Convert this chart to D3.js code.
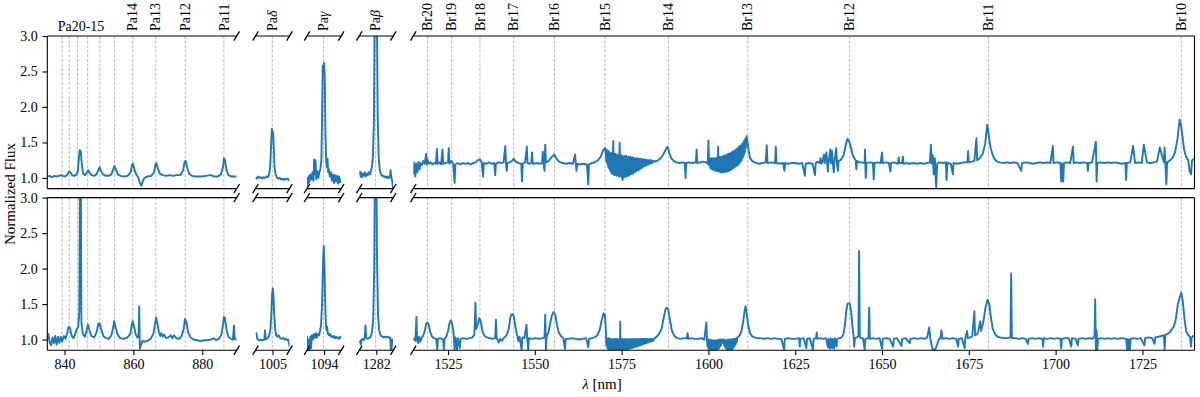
<!DOCTYPE html>
<html><head><meta charset="utf-8">
<script src="https://cdn.jsdelivr.net/npm/d3@7"></script>
<style>
body{margin:0;background:#fff}
svg{display:block}
text{font-family:"Liberation Serif","DejaVu Serif",serif;fill:#000}
</style>
</head><body><svg id="c" width="1200" height="397"></svg>
<script>
// ---------------- DATA ----------------
const segDomains = [[835,890],[1000,1010],[1089,1099],[1277,1287],[1515,1740]];
const segTicks = [[840,860,880],[1005],[1094],[1282],[1525,1550,1575,1600,1625,1650,1675,1700,1725]];
const yTicks = [1.0,1.5,2.0,2.5,3.0];
const yDomain = [0.85,3.0];

const groupWaves = [839.30,841.36,843.80,846.72,850.25,854.54];
const groupLabel = "Pa20-15";
const groupLabelAt = 844.8;
const lineNames = ["Pa14","Pa13","Pa12","Pa11","Paδ","Paγ","Paβ","Br20","Br19","Br18","Br17","Br16","Br15","Br14","Br13","Br12","Br11","Br10"];
const lineWaves = [859.82,866.50,875.04,886.28,1004.94,1093.82,1281.81,1519.08,1526.05,1534.20,1543.92,1555.64,1570.24,1588.49,1611.35,1640.68,1680.65,1736.21];

const xLabel = "[nm]";
const yLabel = "Normalized Flux";

// top spectrum [wavelength nm, normalized flux]
const topFlux = [
[835.0,1.02],[835.6,1.03],[836.3,1.01],[837.0,1.03],[837.7,1.02],[838.4,1.03],[839.0,1.04],[839.5,1.03],[840.2,1.02],[840.9,1.05],[841.3,1.09],[841.7,1.08],[842.2,1.04],[842.8,1.03],[843.5,1.05],[843.9,1.10],[844.2,1.30],[844.4,1.39],[844.7,1.38],[845.0,1.20],[845.4,1.06],[846.0,1.04],[846.5,1.08],[846.9,1.11],[847.3,1.07],[847.9,1.04],[848.6,1.03],[849.3,1.05],[849.9,1.12],[850.2,1.15],[850.6,1.10],[851.2,1.05],[852.0,1.03],[852.8,1.03],[853.6,1.05],[854.2,1.13],[854.5,1.17],[854.9,1.12],[855.5,1.05],[856.3,1.03],[857.2,1.02],[858.3,1.03],[859.2,1.08],[859.6,1.18],[859.9,1.20],[860.3,1.12],[860.8,1.05],[861.4,1.01],[861.9,0.93],[862.3,0.89],[862.7,0.95],[863.2,1.00],[864.0,1.02],[865.2,1.03],[866.0,1.08],[866.4,1.19],[866.7,1.21],[867.1,1.13],[867.7,1.06],[868.5,1.04],[869.5,1.03],[870.5,1.04],[871.5,1.03],[872.5,1.04],[873.6,1.04],[874.4,1.10],[874.9,1.23],[875.2,1.24],[875.6,1.15],[876.2,1.06],[877.0,1.03],[878.0,1.02],[879.5,1.02],[881.0,1.03],[882.5,1.04],[883.5,1.02],[884.5,1.02],[885.4,1.05],[886.0,1.15],[886.3,1.28],[886.6,1.25],[887.0,1.12],[887.6,1.04],[888.5,1.02],[889.3,1.02],[890.0,1.02],
[1000.0,1.01],[1000.4,0.99],[1000.8,1.02],[1001.2,1.00],[1001.6,1.01],[1002.0,0.99],[1002.4,1.01],[1002.8,1.00],[1003.2,1.02],[1003.6,1.01],[1004.0,1.05],[1004.3,1.15],[1004.6,1.45],[1004.8,1.69],[1005.0,1.66],[1005.2,1.63],[1005.4,1.40],[1005.6,1.15],[1005.9,1.05],[1006.3,1.01],[1006.7,0.99],[1007.1,1.00],[1007.5,0.98],[1007.9,0.99],[1008.3,0.97],[1008.7,0.99],[1009.1,0.98],[1009.5,0.99],[1010.0,0.96],
[1089.0,0.88],[1089.2,1.00],[1089.4,0.92],[1089.6,1.03],[1089.8,0.95],[1090.0,1.05],[1090.3,0.98],[1090.6,1.08],[1090.9,0.96],[1091.1,1.26],[1091.3,1.05],[1091.5,1.25],[1091.7,0.98],[1092.0,1.10],[1092.3,1.00],[1092.6,1.08],[1092.9,1.12],[1093.2,1.25],[1093.4,1.80],[1093.6,2.58],[1093.8,2.55],[1094.0,2.62],[1094.2,2.40],[1094.4,1.60],[1094.6,1.25],[1094.8,1.15],[1095.0,1.27],[1095.2,1.08],[1095.4,1.12],[1095.7,1.02],[1096.0,1.08],[1096.3,0.96],[1096.6,1.05],[1096.9,0.93],[1097.2,1.04],[1097.5,0.95],[1097.8,1.03],[1098.1,0.92],[1098.4,1.02],[1098.7,0.94],[1099.0,0.98],
[1277.0,1.05],[1277.2,1.09],[1277.4,1.02],[1277.6,1.07],[1277.8,1.01],[1278.0,1.06],[1278.3,1.03],[1278.6,1.08],[1278.9,1.02],[1279.2,1.06],[1279.5,1.04],[1279.8,1.08],[1280.1,1.05],[1280.4,1.10],[1280.7,1.15],[1281.0,1.30],[1281.3,1.80],[1281.5,3.20],[1281.7,3.60],[1282.0,3.60],[1282.2,3.20],[1282.4,1.90],[1282.7,1.30],[1283.0,1.12],[1283.3,1.06],[1283.6,1.04],[1283.9,1.02],[1284.2,1.03],[1284.5,1.01],[1284.8,1.02],[1285.1,1.00],[1285.4,1.02],[1285.7,1.00],[1286.0,1.01],[1286.2,1.11],[1286.4,1.00],[1286.6,0.98],[1286.8,0.90],[1287.0,0.82],
[1515.0,1.05],[1515.3,1.22],[1515.6,1.02],[1515.9,1.20],[1516.2,1.08],[1516.5,1.23],[1516.8,1.12],[1517.1,1.21],[1517.5,1.18],[1517.9,1.24],[1518.3,1.20],[1518.7,1.34],[1518.9,1.19],[1519.1,1.26],[1519.5,1.20],[1520.0,1.22],[1520.5,1.19],[1521.0,1.21],[1521.5,1.20],[1521.8,1.41],[1522.0,1.20],[1522.5,1.22],[1523.0,1.19],[1523.4,1.40],[1523.6,1.20],[1524.2,1.21],[1525.0,1.22],[1525.2,1.42],[1525.4,1.20],[1526.0,1.24],[1526.5,1.20],[1526.9,0.93],[1527.1,1.19],[1527.8,1.21],[1528.5,1.19],[1529.3,1.21],[1530.0,1.20],[1530.8,1.21],[1531.5,1.19],[1532.3,1.21],[1533.0,1.22],[1533.6,1.25],[1534.2,1.26],[1534.7,1.22],[1535.1,1.02],[1535.3,1.21],[1536.0,1.20],[1536.8,1.22],[1537.5,1.20],[1538.3,1.21],[1538.6,1.04],[1538.8,1.20],[1539.5,1.22],[1540.3,1.21],[1541.0,1.22],[1541.5,1.45],[1541.7,1.20],[1541.9,1.10],[1542.1,1.21],[1542.8,1.22],[1543.4,1.24],[1543.9,1.27],[1544.5,1.23],[1545.3,1.21],[1546.1,1.20],[1546.3,0.95],[1546.5,1.20],[1547.2,1.22],[1547.7,1.44],[1547.9,1.21],[1548.5,1.20],[1549.0,1.22],[1549.2,1.36],[1549.4,1.20],[1550.6,1.21],[1551.5,1.20],[1552.1,1.21],[1552.3,1.37],[1552.5,1.20],[1552.8,1.10],[1553.0,1.47],[1553.2,1.22],[1554.0,1.24],[1554.8,1.29],[1555.6,1.33],[1556.3,1.27],[1557.0,1.23],[1558.0,1.21],[1559.0,1.20],[1560.0,1.21],[1561.0,1.20],[1561.6,1.33],[1561.8,1.20],[1562.0,1.10],[1562.2,1.20],[1563.0,1.19],[1564.0,1.20],[1565.0,1.19],[1565.4,0.91],[1565.6,1.19],[1566.4,1.21],[1567.3,1.22],[1568.2,1.25],[1569.0,1.30],[1569.6,1.38],[1570.2,1.42],
[1570.40,1.38],[1570.55,1.24],[1570.70,1.40],[1570.85,1.20],[1571.00,1.37],[1571.15,1.15],[1571.30,1.38],[1571.45,1.13],[1571.60,1.35],[1571.75,1.10],[1571.90,1.34],[1572.05,1.07],[1572.20,1.36],[1572.35,1.06],[1572.50,1.33],[1572.60,1.52],[1572.70,1.05],[1572.85,1.32],[1573.00,1.04],[1573.15,1.34],[1573.30,1.05],[1573.45,1.31],[1573.60,1.03],[1573.75,1.33],[1573.90,1.04],[1574.05,1.31],[1574.20,1.02],[1574.35,1.32],[1574.45,1.50],[1574.55,1.03],[1574.70,1.31],[1574.85,1.02],[1575.00,1.32],[1575.15,1.01],[1575.30,0.97],[1575.45,1.30],[1575.60,1.02],[1575.75,1.31],[1575.90,1.01],[1576.05,1.30],[1576.20,1.03],[1576.35,1.31],[1576.50,1.02],[1576.65,1.29],[1576.80,1.04],[1576.95,1.30],[1577.10,1.03],[1577.25,1.29],[1577.40,1.05],[1577.55,1.30],[1577.70,1.05],[1577.85,1.28],[1578.00,1.07],[1578.15,1.29],[1578.30,1.06],[1578.45,1.28],[1578.60,1.08],[1578.75,1.28],[1578.90,1.09],[1579.05,1.27],[1579.20,1.09],[1579.35,1.28],[1579.50,1.11],[1579.65,1.27],[1579.80,1.11],[1579.95,1.27],[1580.10,1.12],[1580.25,1.26],[1580.40,1.13],[1580.55,1.27],[1580.70,1.14],[1580.85,1.26],[1581.00,1.15],[1581.15,1.26],[1581.30,1.16],[1581.45,1.26],[1581.60,1.17],[1581.75,1.25],[1581.90,1.17],[1582.05,1.26],[1582.20,1.18],[1582.35,1.25],[1582.50,1.19],[1582.65,1.25],[1582.80,1.19],[1582.95,1.25],[1583.10,1.20],[1583.25,1.25],[1583.40,1.21],[1583.55,1.25],[1583.70,1.21],[1583.85,1.24],[1584.00,1.22],
[1584.4,1.24],[1584.8,1.23],[1585.5,1.25],[1586.3,1.28],[1587.0,1.33],[1587.7,1.40],[1588.2,1.44],[1588.7,1.36],[1589.3,1.28],[1590.0,1.24],[1590.8,1.22],[1591.7,1.21],[1592.6,1.22],[1593.2,1.21],[1593.4,1.00],[1593.6,1.21],[1594.5,1.22],[1595.5,1.21],[1596.4,1.22],[1596.6,1.40],[1596.8,1.21],[1597.6,1.22],[1598.5,1.23],[1599.3,1.22],[1599.8,1.20],[1600.0,1.53],[1600.2,1.18],
[1600.40,1.28],[1600.55,1.14],[1600.70,1.27],[1600.85,1.13],[1601.00,1.28],[1601.15,1.12],[1601.30,1.27],[1601.45,1.12],[1601.60,1.28],[1601.75,1.11],[1601.90,1.27],[1602.05,1.10],[1602.20,1.28],[1602.35,1.10],[1602.50,1.29],[1602.65,1.10],[1602.80,1.44],[1602.95,1.09],[1603.10,1.29],[1603.25,1.09],[1603.40,1.30],[1603.55,1.08],[1603.70,1.29],[1603.85,1.08],[1604.00,1.30],[1604.15,1.08],[1604.30,1.31],[1604.45,1.08],[1604.60,1.31],[1604.75,1.09],[1604.90,1.32],[1605.05,1.09],[1605.20,1.32],[1605.35,1.09],[1605.50,1.33],[1605.65,1.10],[1605.80,1.34],[1605.95,1.10],[1606.10,1.34],[1606.25,1.11],[1606.40,1.35],[1606.55,1.12],[1606.70,1.36],[1606.85,1.13],[1607.00,1.37],[1607.15,1.14],[1607.30,1.38],[1607.45,1.15],[1607.60,1.38],[1607.75,1.16],[1607.90,1.40],[1608.05,1.17],[1608.20,1.41],[1608.35,1.18],[1608.50,1.42],[1608.65,1.19],[1608.80,1.44],[1608.95,1.21],[1609.10,1.45],[1609.25,1.23],[1609.40,1.46],[1609.55,1.25],[1609.70,1.48],[1609.85,1.28],[1610.00,1.50],[1610.15,1.31],[1610.30,1.52],[1610.45,1.35],[1610.60,1.55],[1610.75,1.42],[1611.00,1.59],
[1611.3,1.50],[1611.6,1.38],[1612.0,1.28],[1612.6,1.24],[1613.3,1.22],[1614.0,1.21],[1614.6,1.20],[1615.5,1.21],[1616.5,1.22],[1616.8,1.46],[1617.0,1.21],[1618.0,1.22],[1619.2,1.21],[1619.4,1.44],[1619.6,1.21],[1620.5,1.20],[1621.5,1.21],[1621.9,1.10],[1622.1,1.21],[1623.0,1.20],[1624.0,1.21],
[1625.0,1.21],[1626.0,1.20],[1627.0,1.21],[1627.8,1.03],[1628.0,1.20],[1629.0,1.21],[1630.0,1.20],[1630.7,1.04],[1630.9,1.21],[1631.5,1.23],[1632.0,1.21],[1632.3,1.28],[1632.5,1.20],[1632.8,1.22],[1633.3,1.33],[1633.5,1.21],[1634.0,1.36],[1634.2,1.20],[1634.4,1.09],[1634.6,1.22],[1635.1,1.40],[1635.3,1.21],[1635.6,1.38],[1635.8,1.22],[1636.1,1.08],[1636.3,1.23],[1636.8,1.42],[1637.0,1.22],[1637.3,1.10],[1637.5,1.24],[1638.0,1.25],[1638.5,1.28],[1639.0,1.33],[1639.5,1.45],[1640.0,1.55],[1640.5,1.52],[1641.0,1.44],[1641.5,1.33],[1642.0,1.28],[1642.4,1.25],[1642.6,1.12],[1642.8,1.24],[1643.3,1.22],[1644.0,1.22],[1645.0,1.21],[1645.1,1.40],[1645.3,1.00],[1645.5,1.21],[1646.5,1.22],[1647.4,1.21],[1647.6,0.98],[1647.8,1.21],[1648.8,1.22],[1649.6,1.21],[1650.0,1.36],[1650.2,1.21],[1651.0,1.22],[1652.0,1.21],[1652.4,1.09],[1652.6,1.21],[1653.6,1.22],[1654.6,1.20],[1654.8,1.29],[1655.0,1.21],[1655.8,1.21],[1656.0,1.30],[1656.2,1.20],[1657.0,1.21],[1658.0,1.20],[1659.0,1.21],[1660.0,1.20],[1661.0,1.21],[1662.0,1.20],[1663.0,1.21],[1663.8,1.22],[1664.1,1.47],[1664.3,1.20],[1664.6,1.32],[1664.9,1.05],[1665.2,1.28],[1665.6,0.87],[1665.9,1.20],[1666.4,1.22],[1667.5,1.21],[1668.4,1.22],[1668.6,0.97],[1668.8,1.21],[1669.8,1.20],[1670.4,1.05],[1670.6,1.21],[1671.6,1.20],[1672.6,1.21],[1673.6,1.22],[1674.6,1.22],[1674.8,1.38],[1675.0,1.22],[1675.8,1.23],[1676.6,1.24],[1677.2,1.56],[1677.4,1.25],[1678.2,1.28],[1679.0,1.34],[1679.7,1.48],[1680.3,1.75],[1680.8,1.58],[1681.3,1.42],[1681.9,1.32],[1682.5,1.26],[1683.2,1.23],[1684.0,1.22],[1685.0,1.21],[1686.0,1.22],[1687.0,1.21],[1688.0,1.22],[1689.0,1.21],[1690.1,1.10],[1690.3,1.21],[1691.5,1.22],[1692.5,1.21],[1693.5,1.20],[1694.5,1.21],[1695.5,1.22],[1696.5,1.21],[1697.5,1.22],[1698.5,1.21],[1699.2,1.45],[1699.4,1.21],[1700.3,1.22],[1701.4,1.21],[1701.6,0.95],[1701.9,1.20],[1702.2,0.95],[1702.4,1.21],[1703.2,1.22],[1704.2,1.21],[1705.0,1.44],[1705.2,1.21],[1706.0,1.22],[1707.0,1.21],[1708.0,1.22],[1709.1,1.21],[1709.3,1.10],[1709.5,1.21],[1710.5,1.22],[1711.6,1.51],[1711.8,0.95],[1712.0,1.21],[1713.0,1.22],[1714.0,1.21],[1715.0,1.22],[1716.0,1.21],[1717.0,1.22],[1718.0,1.21],[1719.0,1.20],[1720.1,1.21],[1720.3,0.97],[1720.5,1.21],[1721.5,1.22],[1722.3,1.45],[1722.9,1.21],[1723.8,1.22],[1724.8,1.21],[1725.4,1.47],[1726.3,1.22],[1727.3,1.21],[1728.3,1.22],[1729.2,1.23],[1730.0,1.43],[1731.2,1.22],[1731.4,1.43],[1731.6,1.22],[1731.9,0.91],[1732.1,1.22],[1732.8,1.24],[1733.6,1.28],[1734.4,1.36],[1735.1,1.55],[1735.7,1.82],[1736.1,1.75],[1736.5,1.60],[1737.0,1.40],[1737.6,1.30],[1738.2,1.25],[1738.6,1.10],[1739.0,1.05],[1739.3,1.25],[1740.0,1.27]
];

// bottom spectrum [wavelength nm, normalized flux]
const bottomFlux = [
[835.0,1.00],[835.3,1.08],[835.7,0.96],[836.1,0.92],[836.5,1.03],[836.9,0.95],[837.3,1.05],[837.7,0.93],[838.1,1.04],[838.5,0.95],[838.9,1.04],[839.3,0.97],[839.8,1.05],[840.3,1.01],[840.8,1.10],[841.2,1.18],[841.6,1.16],[842.1,1.05],[842.6,1.02],[843.1,1.08],[843.6,1.15],[844.0,1.18],[844.3,1.40],[844.5,3.60],[844.7,3.60],[844.9,1.25],[845.3,1.08],[845.9,1.04],[846.4,1.12],[846.8,1.21],[847.2,1.14],[847.8,1.05],[848.6,1.03],[849.3,1.10],[849.8,1.22],[850.2,1.23],[850.6,1.15],[851.3,1.05],[852.1,1.02],[852.9,1.01],[853.6,1.06],[854.1,1.16],[854.4,1.26],[854.8,1.18],[855.4,1.07],[856.2,1.02],[857.2,1.01],[858.3,1.03],[859.1,1.08],[859.5,1.20],[859.8,1.26],[860.2,1.18],[860.7,1.07],[861.2,1.03],[861.5,1.04],[861.7,1.47],[861.8,1.05],[861.9,0.87],[862.2,0.92],[862.6,0.98],[863.2,0.97],[864.0,0.98],[865.0,1.01],[865.8,1.08],[866.3,1.22],[866.6,1.31],[867.0,1.22],[867.4,1.10],[867.8,1.05],[868.1,1.09],[868.5,1.04],[868.9,1.07],[869.5,1.02],[870.2,1.03],[870.8,1.06],[871.3,1.02],[871.8,1.06],[872.5,1.02],[873.3,1.01],[874.0,1.05],[874.6,1.15],[875.0,1.29],[875.4,1.24],[875.9,1.10],[876.6,1.03],[877.5,1.00],[878.5,0.99],[879.5,0.98],[880.5,0.99],[881.5,0.99],[882.5,1.00],[883.3,1.02],[884.0,0.99],[884.8,1.01],[885.5,1.06],[886.0,1.20],[886.3,1.32],[886.6,1.30],[887.0,1.15],[887.6,1.04],[888.3,1.01],[888.9,1.00],[889.2,1.20],[889.4,1.01],[890.0,1.00],
[1000.0,1.08],[1000.3,1.09],[1000.5,1.01],[1001.0,0.99],[1001.5,1.00],[1002.0,0.99],[1002.6,1.00],[1002.8,1.13],[1003.0,1.00],[1003.5,1.02],[1004.0,1.05],[1004.4,1.15],[1004.7,1.40],[1004.9,1.65],[1005.1,1.72],[1005.3,1.60],[1005.5,1.35],[1005.8,1.14],[1006.1,1.06],[1006.4,1.04],[1006.8,1.06],[1007.2,1.02],[1007.7,1.01],[1008.2,1.02],[1008.6,1.00],[1009.0,1.01],[1009.4,0.99],[1009.7,1.00],[1010.0,0.90],
[1089.0,1.05],[1089.2,0.95],[1089.4,0.86],[1089.6,1.00],[1089.8,0.86],[1090.0,1.04],[1090.2,0.88],[1090.4,1.06],[1090.7,1.00],[1091.0,1.08],[1091.3,1.02],[1091.6,1.09],[1091.9,1.03],[1092.2,1.08],[1092.5,1.06],[1092.8,1.12],[1093.1,1.20],[1093.4,1.50],[1093.7,2.10],[1093.9,2.32],[1094.1,2.05],[1094.3,1.55],[1094.5,1.25],[1094.7,1.13],[1094.9,1.18],[1095.1,1.08],[1095.4,1.06],[1095.7,1.08],[1096.0,1.04],[1096.3,1.05],[1096.6,1.03],[1096.9,1.05],[1097.2,1.02],[1097.5,1.04],[1097.8,1.02],[1098.1,1.03],[1098.4,1.01],[1098.7,1.04],[1099.0,1.02],
[1277.0,0.95],[1277.2,0.98],[1277.4,0.93],[1277.7,1.00],[1278.0,1.01],[1278.3,0.99],[1278.6,1.02],[1278.8,1.20],[1279.0,1.03],[1279.4,1.01],[1279.8,1.02],[1280.2,1.03],[1280.5,1.06],[1280.8,1.12],[1281.1,1.30],[1281.4,2.00],[1281.6,3.60],[1282.0,3.60],[1282.2,2.20],[1282.5,1.35],[1282.8,1.15],[1283.1,1.08],[1283.4,1.05],[1283.8,1.04],[1284.2,1.03],[1284.6,1.04],[1285.0,1.03],[1285.4,1.04],[1285.8,1.02],[1286.1,1.03],[1286.3,0.85],[1286.5,0.86],[1286.7,1.00],[1287.0,1.00],
[1515.0,0.99],[1515.3,1.02],[1515.6,0.98],[1515.9,1.32],[1516.1,1.00],[1516.4,0.95],[1516.7,1.04],[1517.0,0.97],[1517.4,1.03],[1517.8,1.05],[1518.3,1.12],[1518.7,1.22],[1519.1,1.24],[1519.5,1.20],[1519.9,1.10],[1520.4,1.04],[1521.0,1.02],[1521.6,1.01],[1521.9,0.86],[1522.1,1.01],[1522.8,1.02],[1523.6,1.00],[1523.8,0.86],[1524.0,1.01],[1524.5,1.04],[1525.0,1.12],[1525.4,1.22],[1525.8,1.27],[1526.2,1.22],[1526.6,1.10],[1526.9,0.86],[1527.1,1.03],[1527.6,0.86],[1527.8,1.02],[1528.4,0.88],[1528.6,1.01],[1529.4,1.02],[1530.3,1.01],[1531.2,1.02],[1532.0,1.03],[1532.6,1.07],[1532.9,1.52],[1533.1,1.15],[1533.6,1.22],[1534.0,1.30],[1534.4,1.26],[1534.9,1.12],[1535.5,1.05],[1536.2,1.03],[1537.0,1.02],[1537.8,1.01],[1538.6,1.02],[1538.8,1.28],[1539.0,1.02],[1539.6,0.96],[1540.0,1.01],[1540.5,0.98],[1541.0,1.02],[1541.5,1.04],[1542.0,1.08],[1542.5,1.15],[1542.9,1.30],[1543.2,1.35],[1543.6,1.36],[1544.0,1.32],[1544.4,1.18],[1544.8,1.08],[1545.3,0.98],[1545.6,1.04],[1546.2,0.86],[1546.4,1.03],[1547.0,1.02],[1547.6,1.21],[1547.8,1.02],[1548.1,0.86],[1548.3,1.02],[1549.2,1.01],[1550.2,1.02],[1551.2,1.01],[1552.2,1.02],[1552.8,1.03],[1553.0,1.35],[1553.2,0.86],[1553.4,1.04],[1553.9,1.10],[1554.4,1.22],[1554.9,1.34],[1555.4,1.39],[1555.9,1.35],[1556.4,1.20],[1556.9,1.10],[1557.5,1.05],[1558.2,1.02],[1558.7,0.87],[1558.9,1.01],[1559.8,1.01],[1560.8,1.02],[1561.8,1.01],[1562.8,1.00],[1563.8,1.01],[1564.8,1.02],[1565.4,0.89],[1565.6,1.01],[1566.4,1.02],[1567.2,1.03],[1568.0,1.06],[1568.7,1.14],[1569.3,1.28],[1569.8,1.37],[1570.2,1.34],[1570.45,1.15],
[1570.60,0.92],[1570.75,1.02],[1570.90,0.88],[1571.05,1.01],[1571.20,0.86],[1571.35,1.02],[1571.50,0.85],[1571.65,1.00],[1571.80,0.84],[1571.95,1.01],[1572.10,0.84],[1572.25,1.00],[1572.40,0.84],[1572.55,1.01],[1572.70,0.84],[1572.85,1.00],[1573.00,0.84],[1573.15,1.01],[1573.30,0.84],[1573.45,1.00],[1573.60,0.84],[1573.75,1.01],[1573.90,0.84],[1574.05,1.00],[1574.20,0.84],[1574.35,1.00],[1574.50,0.85],[1574.60,1.25],[1574.70,0.85],[1574.85,1.00],[1575.00,0.84],[1575.15,1.01],[1575.30,0.85],[1575.45,1.00],[1575.60,0.85],[1575.75,1.00],[1575.90,0.85],[1576.05,1.01],[1576.20,0.86],[1576.35,1.00],[1576.50,0.86],[1576.65,1.00],[1576.80,0.86],[1576.95,1.01],[1577.10,0.87],[1577.25,1.00],[1577.40,0.87],[1577.55,1.00],[1577.70,0.88],[1577.85,1.01],[1578.00,0.88],[1578.15,1.00],[1578.30,0.89],[1578.45,1.01],[1578.60,0.89],[1578.75,1.00],[1578.90,0.90],[1579.05,1.01],[1579.20,0.90],[1579.35,1.00],[1579.50,0.91],[1579.65,1.01],[1579.80,0.91],[1579.95,1.01],[1580.10,0.92],[1580.25,1.00],[1580.40,0.92],[1580.55,1.01],[1580.70,0.93],[1580.85,1.01],[1581.00,0.93],[1581.15,1.01],[1581.30,0.94],[1581.45,1.01],[1581.60,0.94],[1581.75,1.01],[1581.90,0.95],[1582.05,1.01],[1582.20,0.95],[1582.35,1.01],[1582.50,0.96],[1582.65,1.01],[1582.80,0.96],[1582.95,1.01],[1583.10,0.97],[1583.25,1.01],[1583.40,0.97],[1583.55,1.01],[1583.70,0.98],[1583.85,1.01],[1584.00,0.98],
[1584.5,1.02],[1585.1,1.04],[1585.8,1.08],[1586.5,1.15],[1587.1,1.30],[1587.6,1.42],[1588.0,1.45],[1588.4,1.43],[1588.9,1.28],[1589.5,1.12],[1590.2,1.05],[1591.0,1.02],[1592.0,1.01],[1593.0,1.02],[1593.8,1.02],[1594.0,1.09],[1594.2,1.01],[1595.0,1.02],[1596.0,1.01],[1597.0,1.01],[1598.0,1.02],[1598.8,1.00],[1599.4,1.24],[1599.6,0.98],
[1599.75,0.90],[1599.90,1.00],[1600.05,0.87],[1600.20,0.99],[1600.35,0.86],[1600.50,1.00],[1600.65,0.85],[1600.80,0.99],[1600.95,0.85],[1601.10,0.99],[1601.25,0.84],[1601.40,0.98],[1601.55,0.84],[1601.70,0.99],[1601.85,0.85],[1602.00,0.98],[1602.15,0.85],[1602.30,0.99],[1602.45,0.86],[1602.60,0.99],[1602.75,0.87],[1602.90,0.99],[1603.05,0.88],[1603.20,1.00],[1603.35,0.90],[1603.50,0.99],[1603.65,0.92],[1603.80,1.00],[1603.95,0.95],[1604.10,1.00],[1604.25,0.96],[1604.40,1.00],[1604.55,0.92],[1604.70,0.99],[1604.85,0.89],[1605.00,0.99],[1605.15,0.87],[1605.30,0.99],[1605.45,0.86],[1605.60,1.00],[1605.75,0.86],[1605.90,0.99],[1606.05,0.85],[1606.20,1.00],[1606.35,0.86],[1606.50,1.00],[1606.65,0.86],[1606.80,1.00],[1606.95,0.87],[1607.10,1.01],[1607.25,0.89],[1607.40,1.01],[1607.55,0.91],[1607.70,1.01],[1607.85,0.93],[1608.00,1.02],[1608.15,0.96],[1608.30,1.03],
[1608.6,1.04],[1609.0,1.06],[1609.5,1.12],[1610.0,1.25],[1610.4,1.40],[1610.7,1.47],[1611.0,1.38],[1611.4,1.22],[1611.9,1.10],[1612.5,1.05],[1613.2,1.03],[1614.0,1.02],[1615.0,1.02],[1616.0,1.01],[1617.0,1.02],[1618.0,1.01],[1619.0,1.02],[1620.0,1.01],[1621.0,1.01],[1621.8,0.86],[1622.0,1.01],[1623.0,1.02],[1624.0,1.01],
[1625.0,1.01],[1626.1,1.02],[1626.3,0.90],[1626.5,1.01],[1627.4,1.02],[1628.2,0.88],[1628.4,1.01],[1629.2,1.02],[1630.1,0.86],[1630.3,1.01],[1631.0,1.02],[1631.2,1.10],[1631.4,1.01],[1632.2,1.02],[1633.0,1.01],[1633.9,1.02],[1634.4,0.89],[1634.6,1.01],[1635.0,0.87],[1635.2,1.02],[1635.6,0.88],[1635.8,1.01],[1636.2,0.87],[1636.4,1.02],[1636.9,0.90],[1637.1,1.01],[1637.8,1.02],[1638.4,1.03],[1638.9,1.08],[1639.3,1.20],[1639.7,1.40],[1640.1,1.51],[1640.7,1.51],[1641.1,1.40],[1641.5,1.18],[1641.8,1.05],[1642.0,0.90],[1642.2,1.02],[1642.8,1.03],[1643.2,1.05],[1643.4,2.25],[1643.6,1.04],[1643.9,1.02],[1644.5,1.02],[1645.0,0.86],[1645.2,1.01],[1646.1,1.02],[1646.3,1.45],[1646.5,1.01],[1647.4,1.02],[1648.4,1.01],[1649.3,1.02],[1650.0,0.87],[1650.2,1.01],[1651.2,1.02],[1652.2,1.01],[1653.2,0.90],[1653.4,1.01],[1654.3,1.02],[1655.6,0.91],[1655.8,1.01],[1656.8,1.02],[1658.0,0.95],[1658.2,1.01],[1659.2,1.02],[1660.2,1.01],[1661.2,1.02],[1662.2,1.01],[1663.0,1.03],[1663.6,1.17],[1663.9,1.02],[1664.3,0.92],[1664.6,0.86],[1665.0,0.85],[1665.4,0.87],[1665.8,0.92],[1666.1,0.97],[1666.4,1.01],[1666.8,1.02],[1667.1,1.13],[1667.4,1.01],[1668.4,1.02],[1669.4,1.01],[1670.4,1.02],[1671.4,1.01],[1671.9,0.90],[1672.1,1.01],[1673.0,1.02],[1673.8,0.88],[1674.0,1.02],[1674.5,1.12],[1674.7,1.02],[1675.4,1.03],[1676.0,1.05],[1676.6,1.40],[1676.8,1.06],[1677.5,1.08],[1678.3,1.26],[1678.5,1.12],[1679.2,1.25],[1679.8,1.45],[1680.4,1.56],[1680.9,1.50],[1681.4,1.30],[1681.9,1.15],[1682.5,1.08],[1683.2,1.04],[1684.0,1.03],[1685.0,1.02],[1686.0,1.02],[1687.0,1.03],[1687.2,1.93],[1687.4,1.02],[1688.4,1.02],[1689.4,1.01],[1690.4,1.02],[1691.4,1.01],[1692.0,0.94],[1692.2,1.01],[1693.2,1.02],[1694.2,1.01],[1695.2,1.02],[1696.2,1.01],[1696.4,0.90],[1696.6,1.02],[1697.6,1.01],[1698.6,1.02],[1699.6,1.01],[1700.6,1.02],[1701.4,1.01],[1701.6,0.88],[1701.8,1.01],[1702.8,1.02],[1703.8,1.02],[1704.5,0.90],[1704.7,1.02],[1705.8,1.01],[1706.4,0.92],[1706.6,1.01],[1707.6,1.02],[1708.6,1.01],[1709.6,1.02],[1710.6,1.01],[1711.2,1.04],[1711.4,1.57],[1711.6,0.85],[1711.8,1.13],[1712.0,0.86],[1712.2,1.01],[1713.0,1.02],[1714.0,1.01],[1715.0,1.02],[1716.0,1.01],[1717.0,1.02],[1718.0,1.01],[1719.0,1.02],[1720.3,1.01],[1720.6,0.86],[1720.8,1.00],[1721.0,0.86],[1721.2,1.00],[1721.4,0.87],[1721.6,1.01],[1722.5,1.02],[1723.5,1.01],[1724.5,1.02],[1725.6,0.92],[1725.8,1.02],[1726.8,1.03],[1727.8,1.02],[1728.5,0.94],[1728.7,1.03],[1729.6,1.04],[1730.4,1.05],[1731.2,1.06],[1731.4,0.86],[1731.6,1.06],[1732.2,1.08],[1732.8,1.10],[1733.4,1.14],[1734.0,1.18],[1734.6,1.28],[1735.2,1.50],[1735.8,1.60],[1736.2,1.66],[1736.6,1.55],[1737.1,1.30],[1737.6,1.12],[1738.2,1.06],[1738.7,1.04],[1739.0,0.90],[1739.2,1.03],[1739.6,1.05],[1740.0,1.04]
];

// ---------------- LAYOUT ----------------
const segPx = [[47.3,236.7],[255.5,289.5],[307,341.2],[359.3,393.3],[413.3,1194.5]];
const panels = [{top:36,bottom:188.6,data:topFlux},{top:197.6,bottom:350.2,data:bottomFlux}];
const BLUE = "#1f77b4";
const FS = 14;

const svg = d3.select("#c");
svg.append("rect").attr("width",1200).attr("height",397).attr("fill","#fff");
const defs = svg.append("defs");
const xScales = segDomains.map((d,i)=>d3.scaleLinear().domain(d).range(segPx[i]));
const allWaves = groupWaves.concat(lineWaves);

panels.forEach((p,pi)=>{
  const y = d3.scaleLinear().domain(yDomain).range([p.bottom,p.top]);
  const g = svg.append("g");
  xScales.forEach((x,si)=>{
    const [d0,d1] = segDomains[si];
    const [x0,x1] = x.range();
    const cid = `clip-${pi}-${si}`;
    defs.append("clipPath").attr("id",cid).append("rect")
      .attr("x",x0).attr("y",p.top).attr("width",x1-x0).attr("height",p.bottom-p.top);
    g.selectAll(null).data(allWaves.filter(w=>w>=d0&&w<=d1)).enter().append("line")
      .attr("x1",d=>x(d)).attr("x2",d=>x(d)).attr("y1",p.top).attr("y2",p.bottom)
      .attr("stroke","#a8a8a8").attr("stroke-width",0.8).attr("stroke-dasharray","3,1.6");
    const pts = p.data.filter(d=>d[0]>=d0&&d[0]<=d1);
    g.append("path").datum(pts)
      .attr("clip-path",`url(#${cid})`)
      .attr("d",d3.line().x(d=>x(d[0])).y(d=>y(d[1])))
      .attr("fill","none").attr("stroke",BLUE).attr("stroke-width",1.9)
      .attr("stroke-linejoin","round");
    [p.top,p.bottom].forEach(yy=>{
      g.append("line").attr("x1",x0).attr("x2",x1).attr("y1",yy).attr("y2",yy)
        .attr("stroke","#000").attr("stroke-width",1.1);
    });
    if(si===0||si===xScales.length-1){
      const xx = si===0?x0:x1;
      g.append("line").attr("x1",xx).attr("x2",xx).attr("y1",p.top).attr("y2",p.bottom)
        .attr("stroke","#000").attr("stroke-width",1.1);
    }
    const ends=[];
    if(si>0) ends.push(x0);
    if(si<xScales.length-1) ends.push(x1);
    ends.forEach(xx=>[p.top,p.bottom].forEach(yy=>{
      g.append("line").attr("x1",xx-2.8).attr("y1",yy+4.6).attr("x2",xx+2.8).attr("y2",yy-4.6)
        .attr("stroke","#000").attr("stroke-width",1.3);
    }));
    if(pi===1){
      const ax = g.append("g").attr("transform",`translate(0,${p.bottom})`)
        .call(d3.axisBottom(x).tickValues(segTicks[si]).tickFormat(d3.format("d")).tickSize(4.9).tickPadding(4.4));
      ax.select(".domain").remove();
      ax.selectAll("line").attr("stroke","#000").attr("stroke-width",1.1);
      ax.selectAll("text").attr("font-size",FS).style("fill","#000");
      ax.attr("font-family",null).attr("font-size",null);
    }
  });
  const ay = g.append("g").attr("transform",`translate(${segPx[0][0]},0)`)
    .call(d3.axisLeft(y).tickValues(yTicks).tickFormat(d3.format(".1f")).tickSize(4.9).tickPadding(4.6));
  ay.select(".domain").remove();
  ay.selectAll("line").attr("stroke","#000").attr("stroke-width",1.1);
  ay.selectAll("text").attr("font-size",FS).style("fill","#000");
  ay.attr("font-family",null).attr("font-size",null);
});

const segOf = w => segDomains.findIndex(d=>w>=d[0]&&w<=d[1]);
const labY = 31;
const gl = svg.append("g");
lineNames.forEach((n,i)=>{
  const w = lineWaves[i]; const x = xScales[segOf(w)](w);
  const t = gl.append("text").attr("transform",`translate(${x},${labY}) rotate(-90)`)
    .attr("dy","0.33em").attr("font-size",FS);
  const greek = /[α-ω]/.test(n.slice(-1));
  if(greek){
    t.append("tspan").text(n.slice(0,-1));
    t.append("tspan").attr("font-style","italic").text(n.slice(-1));
  } else t.text(n);
});
gl.append("text").attr("x",xScales[segOf(groupLabelAt)](groupLabelAt)).attr("y",labY)
  .attr("text-anchor","middle").attr("font-size",FS).text(groupLabel);

svg.append("text").attr("transform","translate(15,194) rotate(-90)")
  .attr("text-anchor","middle").attr("font-size",15).text(yLabel);
const xl = svg.append("text").attr("x",602).attr("y",389).attr("text-anchor","middle").attr("font-size",15);
xl.append("tspan").attr("font-style","italic").text("λ");
xl.append("tspan").text(" "+xLabel);
</script>
</body></html>
